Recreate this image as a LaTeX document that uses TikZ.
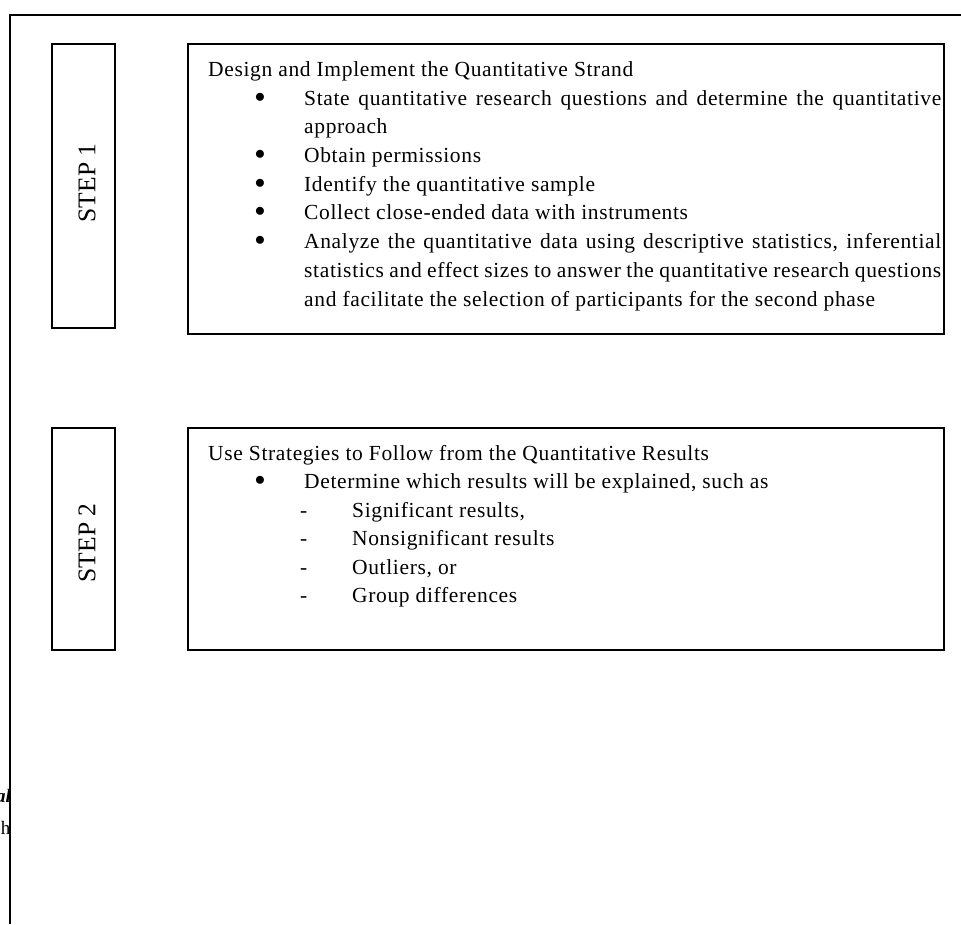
\documentclass[tikz,border=0pt]{standalone}
\usepackage{fontspec}
\setmainfont{Liberation Serif}[LetterSpace=3]
\newfontfamily\plainserif{Liberation Serif}
\begin{document}
\begin{tikzpicture}[x=1pt,y=-1pt,
  frameline/.style={line width=2pt},
  boxline/.style={draw, line width=1.4pt, inner sep=0pt},
  txt/.style={anchor=base west, inner sep=0pt, font=\fontsize{21.5}{26}\selectfont},
  steptxt/.style={rotate=90, inner sep=0pt, font=\plainserif\fontsize{25.5}{30}\selectfont},
  bul/.style={inner sep=0pt, font=\fontsize{21.5}{26}\selectfont},
  margintxt/.style={anchor=base east, inner sep=0pt, font=\plainserif\fontsize{19}{22}\selectfont}]
\useasboundingbox (0,0) rectangle (961,924);
% outer frame
\coordinate (ftop) at (961,15);
\coordinate (fcorner) at (10,15);
\coordinate (fbot) at (10,924);
% margin fragments (cut off by the frame, as in the reference)
\begin{scope}
\clip (0,760) rectangle (10,860);
\node[margintxt, font=\plainserif\bfseries\itshape\fontsize{19}{22}\selectfont] (m1) at (11,802) {al};
\node[margintxt] (m2) at (10.5,834) {h};
\end{scope}
\draw[frameline] (ftop) -- (fcorner) -- (fbot);
% boxes
\node[boxline, minimum width=63, minimum height=284] (s1) at (83.5,186) {};
\node[boxline, minimum width=756, minimum height=290] (b1) at (566,189) {};
\node[boxline, minimum width=63, minimum height=222] (s2) at (83.5,539) {};
\node[boxline, minimum width=756, minimum height=222] (b2) at (566,539) {};
\node[steptxt] (s1t) at (87,183) {STEP 1};
\node[steptxt] (s2t) at (87,543) {STEP 2};
% box 1 text
\node[txt] (t1) at (208,76) {Design and Implement the Quantitative Strand};
\node[bul] (u1) at (260,98) {$\bullet$};
\node[txt] (l1) at (304,105) {\makebox[637pt][s]{State quantitative research questions and determine the quantitative}};
\node[txt] (l1b) at (304,133) {approach};
\node[bul] (u2) at (260,155) {$\bullet$};
\node[txt] (l2) at (304,162) {Obtain permissions};
\node[bul] (u3) at (260,184) {$\bullet$};
\node[txt] (l3) at (304,191) {Identify the quantitative sample};
\node[bul] (u4) at (260,212) {$\bullet$};
\node[txt] (l4) at (304,219) {Collect close-ended data with instruments};
\node[bul] (u5) at (260,241) {$\bullet$};
\node[txt] (l5) at (304,248) {\makebox[637pt][s]{Analyze the quantitative data using descriptive statistics, inferential}};
\node[txt] (l5b) at (304,277) {\makebox[637pt][s]{statistics and effect sizes to answer the quantitative research questions}};
\node[txt] (l5c) at (304,306) {and facilitate the selection of participants for the second phase};
% box 2 text
\node[txt] (t2) at (208,460) {Use Strategies to Follow from the Quantitative Results};
\node[bul] (v1) at (260,481) {$\bullet$};
\node[txt] (k1) at (304,488) {Determine which results will be explained, such as};
\node[txt] (d1) at (300,517) {-};
\node[txt] (k2) at (352,517) {Significant results,};
\node[txt] (d2) at (300,545) {-};
\node[txt] (k3) at (352,545) {Nonsignificant results};
\node[txt] (d3) at (300,574) {-};
\node[txt] (k4) at (352,574) {Outliers, or};
\node[txt] (d4) at (300,602) {-};
\node[txt] (k5) at (352,602) {Group differences};
\end{tikzpicture}
\end{document}
